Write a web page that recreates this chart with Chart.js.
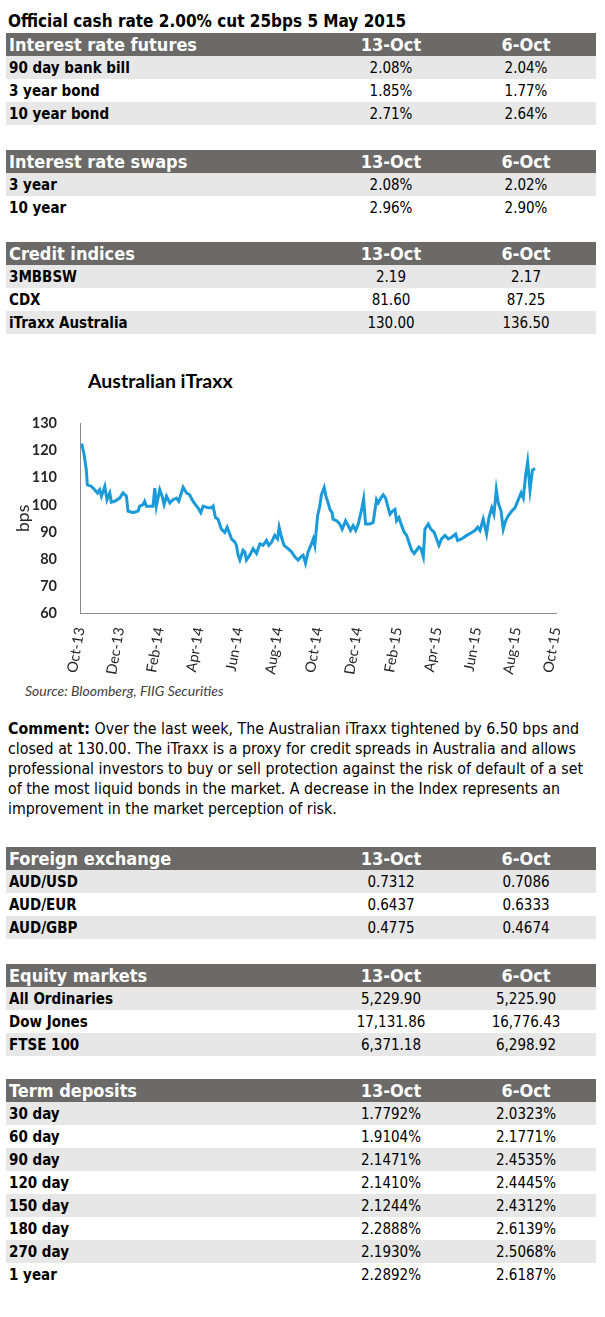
<!DOCTYPE html>
<html>
<head>
<meta charset="utf-8">
<script src="https://cdn.jsdelivr.net/npm/chart.js@4/dist/chart.umd.min.js"></script>
<style>
  html, body { margin: 0; padding: 0; background: #fff; }
  body { width: 605px; height: 1317px; position: relative; overflow: hidden;
         font-family: "DejaVu Sans Condensed", "DejaVu Sans", sans-serif; font-stretch: condensed; color: #000; }
  .title { position: absolute; left: 8px; top: 11px; font-size: 17px; font-weight: bold; white-space: nowrap; }
  .tbl { position: absolute; left: 6px; width: 590px; }
  .row { position: relative; height: 23px; font-size: 15px; line-height: 25px; }
  .row.hdr { background: #6b6a68; color: #fff; font-weight: bold; font-size: 18px; line-height: 24px; }
  .row.shade { background: #e7e7e7; }
  .row .lab { position: absolute; left: 3px; top: 0; font-weight: bold; white-space: nowrap; }
  .row .c1, .row .c2 { position: absolute; top: 0; width: 120px; text-align: center; white-space: nowrap; }
  .row .c1 { left: 325px; }
  .row .c2 { left: 460px; }
  .comment { position: absolute; left: 8px; top: 719px; font-size: 15.8px; line-height: 20px; white-space: nowrap; }
  .ctitle { position: absolute; left: 88px; top: 369px; font-family: Lato, sans-serif; font-weight: bold; font-size: 19.5px; font-stretch: normal; color: #000; }
  .source { position: absolute; left: 25px; top: 682px; font-family: Lato, sans-serif; font-style: italic; font-size: 14px; font-stretch: normal; color: #404040; }
  #chartBox { position: absolute; left: 0; top: 400px; width: 580px; height: 280px; }
</style>
</head>
<body>
<div class="title">Official cash rate 2.00% cut 25bps 5 May 2015</div>

<div class="tbl" id="t1" style="top:33px"></div>
<div class="tbl" id="t2" style="top:150px"></div>
<div class="tbl" id="t3" style="top:242px"></div>

<div class="ctitle">Australian iTraxx</div>
<div id="chartBox"><canvas id="c"></canvas></div>
<div class="source">Source: Bloomberg, FIIG Securities</div>

<div class="comment"><b>Comment:</b> Over the last week, The Australian iTraxx tightened by 6.50 bps and<br>closed at 130.00. The iTraxx is a proxy for credit spreads in Australia and allows<br>professional investors to buy or sell protection against the risk of default of a set<br>of the most liquid bonds in the market. A decrease in the Index represents an<br>improvement in the market perception of risk.</div>

<div class="tbl" id="t4" style="top:847px"></div>
<div class="tbl" id="t5" style="top:964px"></div>
<div class="tbl" id="t6" style="top:1079px"></div>

<script>
// ---- table data ----
const colHeads = ['13-Oct', '6-Oct'];

const futuresLabels = ['90 day bank bill', '3 year bond', '10 year bond'];
const futures13 = ['2.08%', '1.85%', '2.71%'];
const futures6 = ['2.04%', '1.77%', '2.64%'];

const swapsLabels = ['3 year', '10 year'];
const swaps13 = ['2.08%', '2.96%'];
const swaps6 = ['2.02%', '2.90%'];

const creditLabels = ['3MBBSW', 'CDX', 'iTraxx Australia'];
const credit13 = ['2.19', '81.60', '130.00'];
const credit6 = ['2.17', '87.25', '136.50'];

const fxLabels = ['AUD/USD', 'AUD/EUR', 'AUD/GBP'];
const fx13 = ['0.7312', '0.6437', '0.4775'];
const fx6 = ['0.7086', '0.6333', '0.4674'];

const equityLabels = ['All Ordinaries', 'Dow Jones', 'FTSE 100'];
const equity13 = ['5,229.90', '17,131.86', '6,371.18'];
const equity6 = ['5,225.90', '16,776.43', '6,298.92'];

const tdLabels = ['30 day', '60 day', '90 day', '120 day', '150 day', '180 day', '270 day', '1 year'];
const td13 = ['1.7792%', '1.9104%', '2.1471%', '2.1410%', '2.1244%', '2.2888%', '2.1930%', '2.2892%'];
const td6 = ['2.0323%', '2.1771%', '2.4535%', '2.4445%', '2.4312%', '2.6139%', '2.5068%', '2.6187%'];

// ---- chart data (months since 1 Oct 2013, bps) ----
const xTickLabels = ['Oct-13','Dec-13','Feb-14','Apr-14','Jun-14','Aug-14','Oct-14','Dec-14','Feb-15','Apr-15','Jun-15','Aug-15','Oct-15'];
const xMonths = [0.04,0.10,0.20,0.32,0.37,0.58,0.74,0.88,0.99,1.08,1.25,1.36,1.50,1.58,1.75,2.00,2.17,2.34,2.42,2.67,2.93,3.01,3.18,3.26,3.35,3.52,3.68,3.77,3.85,4.02,4.14,4.24,4.36,4.53,4.69,4.86,4.98,5.20,5.37,5.53,5.65,5.82,5.95,6.09,6.21,6.46,6.63,6.71,6.83,6.96,7.13,7.30,7.42,7.52,7.64,7.81,7.89,7.97,8.06,8.22,8.31,8.39,8.56,8.73,8.90,9.07,9.23,9.40,9.52,9.66,9.82,9.96,10.04,10.16,10.29,10.49,10.67,10.83,11.00,11.14,11.25,11.37,11.50,11.64,11.76,11.84,11.98,12.09,12.17,12.31,12.40,12.51,12.60,12.71,12.76,12.94,13.10,13.22,13.39,13.52,13.64,13.77,13.90,14.03,14.20,14.30,14.40,14.62,14.78,14.95,15.04,15.17,15.29,15.41,15.54,15.63,15.76,15.88,15.96,16.08,16.22,16.35,16.47,16.58,16.72,16.85,16.97,17.09,17.19,17.31,17.39,17.56,17.69,17.86,17.98,18.10,18.23,18.40,18.57,18.74,18.94,19.04,19.24,19.50,19.75,19.91,20.05,20.17,20.33,20.50,20.62,20.76,20.87,20.99,21.09,21.23,21.34,21.46,21.59,21.77,21.93,22.10,22.24,22.35,22.47,22.57,22.69,22.81,22.94];
const itraxxBps = [121.9,122.1,118.9,112.8,107.4,106.8,105.6,104.4,105.6,103.2,106.8,101.9,104.4,101.0,101.3,102.5,104.4,103.2,97.7,97.1,97.7,99.5,100.1,101.3,99.5,99.5,99.5,106.2,99.5,105.6,103.2,100.1,103.2,100.7,101.9,102.5,101.3,106.5,104.4,103.7,101.9,100.1,98.9,97.1,99.5,98.9,98.9,99.5,95.3,94.7,91.0,89.8,91.7,89.8,87.4,86.2,85.0,81.4,79.6,83.2,82.6,79.6,81.4,83.8,82.0,85.6,85.0,86.8,85.0,86.2,88.7,87.4,91.7,88.0,85.0,83.8,82.6,80.8,79.6,80.8,81.4,78.4,82.6,85.0,87.4,85.0,96.0,99.5,103.7,106.4,103.2,100.7,98.3,97.1,94.7,94.1,92.9,91.0,94.1,92.3,90.5,92.3,90.5,92.9,98.3,102.2,92.9,92.9,93.5,101.9,100.7,102.5,103.7,102.5,98.9,96.5,97.7,98.3,94.1,95.3,92.3,89.8,88.7,86.2,83.2,82.0,83.2,84.4,83.8,80.8,91.0,92.9,91.0,89.8,87.4,85.0,87.4,88.7,87.4,88.0,89.2,86.8,87.4,88.7,89.8,90.5,91.7,90.5,94.7,89.2,95.3,98.9,96.5,105.6,100.7,97.7,91.0,94.1,95.9,97.7,98.9,101.9,104.4,102.5,111.0,115.9,105.6,112.8,113.4];
const yMin = 60, yMax = 130, yStep = 10;

// ---- build tables ----
function buildTable(id, head, labels, v1, v2) {
  const el = document.getElementById(id);
  let html = '<div class="row hdr"><span class="lab">' + head + '</span><span class="c1">' + colHeads[0] + '</span><span class="c2">' + colHeads[1] + '</span></div>';
  labels.forEach((l, i) => {
    html += '<div class="row' + (i % 2 === 0 ? ' shade' : '') + '"><span class="lab">' + l + '</span><span class="c1">' + v1[i] + '</span><span class="c2">' + v2[i] + '</span></div>';
  });
  el.innerHTML = html;
}
buildTable('t1', 'Interest rate futures', futuresLabels, futures13, futures6);
buildTable('t2', 'Interest rate swaps', swapsLabels, swaps13, swaps6);
buildTable('t3', 'Credit indices', creditLabels, credit13, credit6);
buildTable('t4', 'Foreign exchange', fxLabels, fx13, fx6);
buildTable('t5', 'Equity markets', equityLabels, equity13, equity6);
buildTable('t6', 'Term deposits', tdLabels, td13, td6);

// ---- chart ----
const points = xMonths.map((x, i) => ({ x: x, y: itraxxBps[i] }));
new Chart(document.getElementById('c'), {
  type: 'line',
  data: {
    datasets: [{
      data: points,
      borderColor: '#1a9ad8',
      borderWidth: 3,
      pointRadius: 0,
      tension: 0,
      fill: false
    }]
  },
  options: {
    responsive: true,
    maintainAspectRatio: false,
    animation: false,
    layout: { padding: { top: 18, right: 24, left: 0, bottom: 0 } },
    plugins: { legend: { display: false }, tooltip: { enabled: false }, title: { display: false } },
    scales: {
      x: {
        type: 'linear',
        min: 0, max: 24,
        afterFit: s => { s.height = 67; },
        afterBuildTicks: s => { s.ticks = xTickLabels.map((_, i) => ({ value: i * 2 })); },
        ticks: {
          autoSkip: false,
          minRotation: 80, maxRotation: 80,
          padding: 5,
          color: '#262626',
          font: { family: 'Lato', size: 14.5 },
          callback: (v) => xTickLabels[Math.round(v / 2)]
        },
        grid: { display: false },
        border: { display: true, color: '#8a8a8a', width: 1 }
      },
      y: {
        min: yMin, max: yMax,
        afterFit: s => { s.width = 80; },
        ticks: {
          stepSize: yStep,
          padding: 15,
          color: '#262626',
          font: { family: 'Lato', size: 14.5, weight: 'bold' }
        },
        title: {
          display: true,
          text: 'bps',
          color: '#262626',
          font: { family: 'Lato', size: 17.5 },
          padding: { top: 13, bottom: 0 }
        },
        grid: { display: false },
        border: { display: true, color: '#8a8a8a', width: 1 }
      }
    }
  }
});
</script>
</body>
</html>
